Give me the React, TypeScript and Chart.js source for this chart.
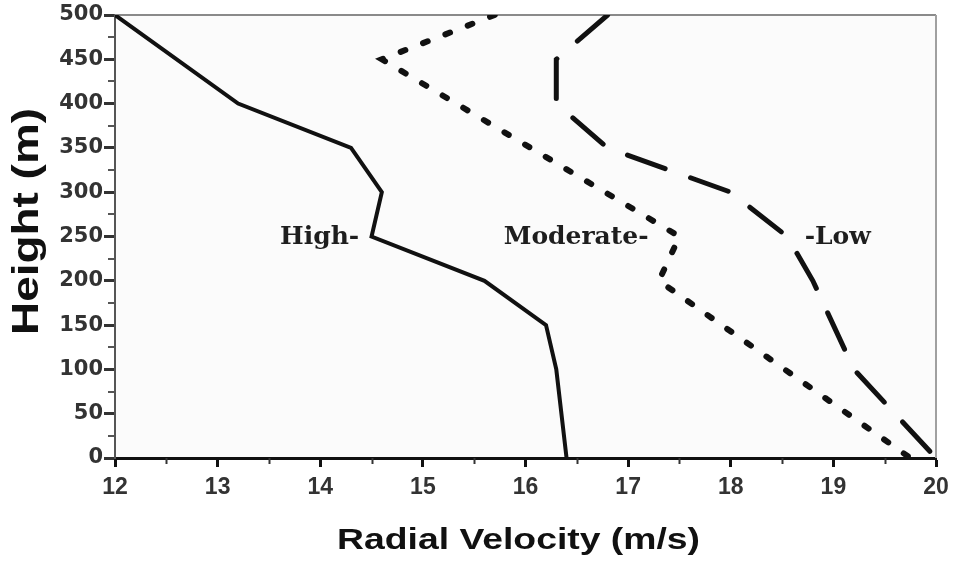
import { useEffect, useRef } from "react";
import { Chart, registerables } from "chart.js";
Chart.register(...registerables);

// ---- data ----
const highHeights = [500, 400, 350, 300, 250, 200, 150, 100, 0];
const highVelocity = [12.0, 13.2, 14.3, 14.6, 14.5, 15.6, 16.2, 16.3, 16.4];

const moderateHeights = [500, 450, 250, 200, 0];
const moderateVelocity = [15.7, 14.6, 17.5, 17.3, 19.75];

const lowHeights = [500, 450, 400, 350, 300, 250, 200, 150, 100, 0];
const lowVelocity = [16.8, 16.3, 16.3, 16.8, 18.0, 18.55, 18.8, 19.0, 19.2, 20.0];

const seriesNames = ["High", "Moderate", "Low"];
const curveLabels = ["High-", "Moderate-", "-Low"];
const curveLabelVelocity = [14.38, 17.2, 18.72];
const curveLabelHeight = [250, 250, 250];
const curveLabelAlign: CanvasTextAlign[] = ["right", "right", "left"];

const xMin = 12;
const xMax = 20;
const yMin = 0;
const yMax = 500;
const xMinorTicks = [12.5, 13.5, 14.5, 15.5, 16.5, 17.5, 18.5, 19.5];
const yMinorTicks = [25, 75, 125, 175, 225, 275, 325, 375, 425, 475];

const xTitle = "Radial Velocity (m/s)";
const yTitle = "Height (m)";

const toPoints = (xs: number[], ys: number[]) => xs.map((x, i) => ({ x, y: ys[i] }));

const decorPlugin = {
  id: "decor",
  beforeDraw(chart: any) {
    const { ctx, chartArea: a } = chart;
    ctx.save();
    ctx.fillStyle = "#fbfbfb";
    ctx.fillRect(a.left, a.top, a.right - a.left, a.bottom - a.top);
    ctx.restore();
  },
  beforeDatasetsDraw(chart: any) {
    const { ctx, chartArea: a } = chart;
    ctx.save();
    ctx.lineWidth = 2;
    ctx.strokeStyle = "#8a8a8a";
    ctx.beginPath();
    ctx.moveTo(a.left, a.top);
    ctx.lineTo(a.right, a.top);
    ctx.stroke();
    ctx.strokeStyle = "#a0a0a0";
    ctx.beginPath();
    ctx.moveTo(a.right, a.top);
    ctx.lineTo(a.right, a.bottom);
    ctx.stroke();
    ctx.restore();
  },
  afterDatasetsDraw(chart: any) {
    const { ctx } = chart;
    const xs = chart.scales.x;
    const ys = chart.scales.y;
    ctx.save();
    ctx.fillStyle = "#1e1e1e";
    ctx.font = "bold 25px 'DejaVu Serif'";
    ctx.textBaseline = "alphabetic";
    curveLabels.forEach((t, i) => {
      ctx.textAlign = curveLabelAlign[i];
      ctx.fillText(t, xs.getPixelForValue(curveLabelVelocity[i]), ys.getPixelForValue(curveLabelHeight[i]) + 7);
    });
    ctx.restore();
  },
  afterDraw(chart: any) {
    const { ctx, chartArea: a } = chart;
    const xs = chart.scales.x;
    const ys = chart.scales.y;
    ctx.save();
    // minor ticks
    ctx.strokeStyle = "#333";
    ctx.lineWidth = 2;
    xMinorTicks.forEach((v) => {
      const px = Math.round(xs.getPixelForValue(v)) + 0.5;
      ctx.beginPath();
      ctx.moveTo(px, a.bottom);
      ctx.lineTo(px, a.bottom + 6);
      ctx.stroke();
    });
    ctx.strokeStyle = "#555";
    yMinorTicks.forEach((v) => {
      const py = Math.round(ys.getPixelForValue(v));
      ctx.beginPath();
      ctx.moveTo(a.left, py);
      ctx.lineTo(a.left - 7, py);
      ctx.stroke();
    });

    // x title
    ctx.fillStyle = "#111";
    ctx.font = "bold 30px 'Liberation Sans', Arial, sans-serif";
    ctx.textAlign = "center";
    ctx.textBaseline = "alphabetic";
    const wx = ctx.measureText(xTitle).width;
    const sx = 363 / wx;
    ctx.save();
    ctx.translate((a.left + a.right) / 2 - 7, a.bottom + 91);
    ctx.scale(sx, 1);
    ctx.fillText(xTitle, 0, 0);
    ctx.restore();

    // y title
    ctx.font = "bold 36px 'Liberation Sans', Arial, sans-serif";
    const wy = ctx.measureText(yTitle).width;
    const sy = 227 / wy;
    ctx.save();
    ctx.translate(a.left - 77, (a.top + a.bottom) / 2 - 15);
    ctx.rotate(-Math.PI / 2);
    ctx.scale(sy, 1);
    ctx.fillText(yTitle, 0, 0);
    ctx.restore();

    ctx.restore();
  },
};

export default function App() {
  const canvasRef = useRef<HTMLCanvasElement | null>(null);

  useEffect(() => {
    if (!canvasRef.current) return;
    const chart = new Chart(canvasRef.current, {
      type: "scatter",
      data: {
        datasets: [
          {
            label: seriesNames[0],
            data: toPoints(highVelocity, highHeights),
            showLine: true,
            borderColor: "#111",
            borderWidth: 4,
            pointRadius: 0,
            borderJoinStyle: "miter",
            tension: 0,
          },
          {
            label: seriesNames[1],
            data: toPoints(moderateVelocity, moderateHeights),
            showLine: true,
            borderColor: "#111",
            borderWidth: 6,
            borderDash: [5, 19],
            borderCapStyle: "round",
            pointRadius: 0,
            tension: 0,
          },
          {
            label: seriesNames[2],
            data: toPoints(lowVelocity, lowHeights),
            showLine: true,
            borderColor: "#111",
            borderWidth: 5,
            borderDash: [40, 27],
            borderCapStyle: "round",
            pointRadius: 0,
            tension: 0,
          },
        ],
      },
      options: {
        animation: false,
        responsive: false,
        maintainAspectRatio: false,
        layout: { padding: { left: 0, right: 17, top: 15, bottom: 0 } },
        plugins: {
          legend: { display: false },
          tooltip: { enabled: false },
          title: { display: false },
        },
        scales: {
          x: {
            type: "linear",
            min: xMin,
            max: xMax,
            afterFit: (s: any) => {
              s.height = 105;
              s.paddingLeft = 0;
              s.paddingRight = 0;
            },
            ticks: {
              stepSize: 1,
              padding: 7,
              color: "#333",
              font: { family: "'Liberation Sans', Arial, sans-serif", size: 23, weight: "bold" },
              maxRotation: 0,
              autoSkip: false,
            },
            grid: {
              drawOnChartArea: false,
              drawTicks: true,
              tickLength: 9,
              tickWidth: 3,
              tickColor: "#111",
            },
            border: { display: true, color: "#111", width: 3 },
          },
          y: {
            type: "linear",
            min: yMin,
            max: yMax,
            afterFit: (s: any) => {
              s.width = 115;
              s.paddingTop = 0;
              s.paddingBottom = 0;
            },
            ticks: {
              stepSize: 50,
              padding: 1,
              color: "#333",
              font: { family: "'DejaVu Sans', sans-serif", size: 21, weight: "bold" },
              autoSkip: false,
            },
            grid: {
              drawOnChartArea: false,
              drawTicks: true,
              tickLength: 11,
              tickWidth: 3,
              tickColor: "#333",
            },
            border: { display: true, color: "#555", width: 2 },
          },
        },
      },
      plugins: [decorPlugin],
    } as any);
    return () => chart.destroy();
  }, []);

  return (
    <div style={{ position: "absolute", left: 0, top: 0, width: 953, height: 563, background: "#fff" }}>
      <canvas ref={canvasRef} width={953} height={563} style={{ display: "block" }} />
    </div>
  );
}
